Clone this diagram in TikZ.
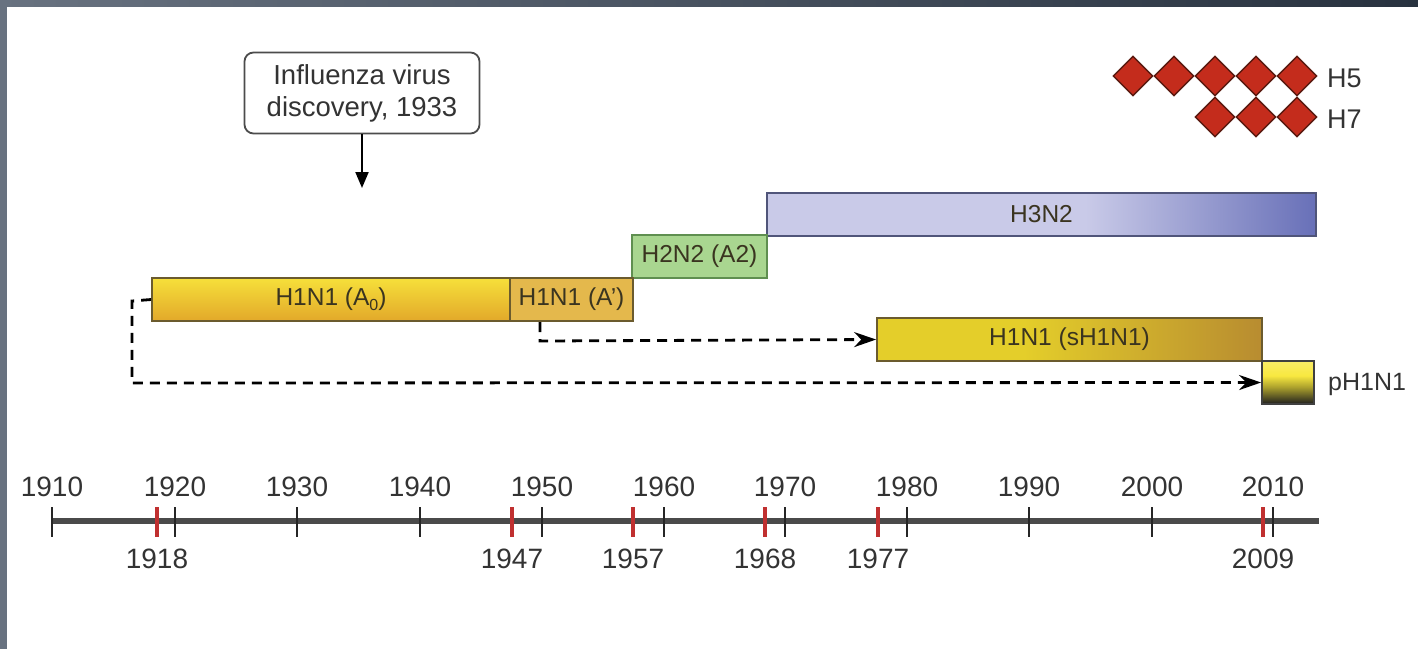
\documentclass[tikz,border=0pt]{standalone}
\usepackage{fontspec}
\setmainfont{Liberation Sans}
\usetikzlibrary{shapes.geometric,arrows.meta}
\definecolor{txt}{HTML}{333333}
\definecolor{bartxt}{HTML}{3A3420}
\definecolor{frameL}{HTML}{687280}
\definecolor{frameR}{HTML}{28323F}
\definecolor{aoTop}{HTML}{F6E03A}
\definecolor{aoBot}{HTML}{E2A82A}
\definecolor{aprime}{HTML}{E4B84C}
\definecolor{yelborder}{HTML}{6B5B2E}
\definecolor{green2}{HTML}{A9D690}
\definecolor{greenborder}{HTML}{5F8F50}
\definecolor{hLight}{HTML}{C9CAE8}
\definecolor{hDark}{HTML}{6870B8}
\definecolor{hborder}{HTML}{50557A}
\definecolor{sYel}{HTML}{E4CE2A}
\definecolor{sGold}{HTML}{B88C30}
\definecolor{pYel}{HTML}{F8E840}
\definecolor{pBlk}{HTML}{1E1E1E}
\definecolor{dred}{HTML}{C42C1C}
\definecolor{dredb}{HTML}{5A1A10}
\definecolor{redtick}{HTML}{C03030}
\definecolor{axisgray}{HTML}{4A4A4A}
\pgfdeclarehorizontalshading{hthree}{100bp}{color(0bp)=(hLight); color(25bp)=(hLight); color(54bp)=(hLight); color(75bp)=(hDark); color(100bp)=(hDark)}
\pgfdeclarehorizontalshading{sshade}{100bp}{color(0bp)=(sYel); color(25bp)=(sYel); color(44bp)=(sYel); color(75bp)=(sGold); color(100bp)=(sGold)}
\pgfdeclareverticalshading{pshade}{100bp}{color(0bp)=(pBlk); color(25bp)=(pBlk); color(45bp)=(pYel!70!black); color(58bp)=(pYel); color(75bp)=(pYel!80!white); color(100bp)=(pYel!80!white)}
\tikzset{
  bar/.style={draw=yelborder, line width=1.8pt, inner sep=0pt, minimum height=43pt, text=bartxt, font=\fontsize{24.5}{28}\selectfont},
  yr/.style={text=txt, font=\fontsize{28}{32}\selectfont, inner sep=0pt},
  tk/.style={line width=1.8pt, black!85},
  rtk/.style={line width=3.4pt, redtick},
  dashconn/.style={line width=2.8pt, dash pattern=on 10pt off 7pt, -{Stealth[length=22pt,width=15pt]}},
  dia/.style={shape=diamond, draw=dredb, fill=dred, line width=1.4pt, inner sep=0pt, minimum width=40pt, minimum height=40pt},
  lbl/.style={text=txt, font=\fontsize{27}{30}\selectfont, inner sep=0pt}
}
\begin{document}
\begin{tikzpicture}[x=1pt,y=-1pt]
\useasboundingbox (0,0) rectangle (1418,649);
\fill[white] (0,0) rectangle (1418,649);
% frame bands
\shade[left color=frameL, right color=frameR] (0,0) rectangle (1418,6);
\fill[frameL] (0,0) rectangle (7,649);

% callout
\node[draw=black!70, line width=1.8pt, rounded corners=9pt, minimum width=235pt, minimum height=81pt, align=center, inner sep=0pt, text=txt, font=\fontsize{27.5}{32}\selectfont] (disc) at (362,93) {Influenza virus\\discovery, 1933};
\coordinate (discend) at (362,188);
\draw[line width=2pt, -{Triangle[length=16pt,width=13pt]}] (disc.south) -- (discend);

% diamonds
\foreach \i/\x in {1/1133,2/1174,3/1215,4/1256,5/1297} \node[dia] (h5d\i) at (\x,76) {};
\foreach \i/\x in {1/1215,2/1256,3/1297} \node[dia] (h7d\i) at (\x,117) {};
\node[lbl, anchor=west] (h5) at (1327,78) {H5};
\node[lbl, anchor=west] (h7) at (1327,119) {H7};

% bars
\node[bar, draw=hborder, minimum width=549pt, shading=hthree] (h3n2) at (1041.5,214.5) {H3N2};
\node[bar, draw=greenborder, fill=green2, minimum width=135pt] (h2n2) at (699.5,256.5) {H2N2 (A2)};
\node[bar, minimum width=358pt, top color=aoTop, bottom color=aoBot] (a0) at (331,299.5) {H1N1 (A\raisebox{-0.35ex}{\fontsize{16}{18}\selectfont 0})};
\node[bar, minimum width=123pt, fill=aprime] (ap) at (571.5,299.5) {H1N1 (A’)};
\node[bar, minimum width=385pt, shading=sshade] (sh1) at (1069.5,339.5) {H1N1 (sH1N1)};
\node[bar, draw=black!75, minimum width=52pt, shading=pshade] (ph1) at (1288,382.5) {};
\node[lbl, font=\fontsize{25}{28}\selectfont, anchor=west] (phl) at (1328,384) {pH1N1};

% dashed connectors
\coordinate (c1) at (132,301);
\coordinate (c2) at (132,383);
\draw[dashconn] (a0.west) -- (c1) -- (c2) -- (ph1.west);
\coordinate (c3) at (540,322);
\coordinate (c4) at (540,341);
\draw[dashconn] (c3) -- (c4) -- (sh1.west);

% axis
\coordinate (axL) at (52,521);
\coordinate (axR) at (1319,521);
\draw[line width=6pt, axisgray] (axL) -- (axR);
\foreach \y/\x in {1910/52,1920/175,1930/297,1940/420,1950/542,1960/664,1970/785,1980/907,1990/1029,2000/1152,2010/1273}{
  \draw[tk] (\x,507) -- (\x,537);
  \node[yr] (t\y) at (\x,487) {\y};
}
\foreach \y/\x in {1918/157,1947/512,1957/633,1968/765,1977/878,2009/1263}{
  \draw[rtk] (\x,507) -- (\x,537);
  \node[yr] (b\y) at (\x,559) {\y};
}
\end{tikzpicture}
\end{document}
